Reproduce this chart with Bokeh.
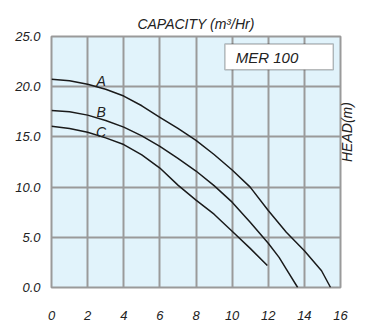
import math
from bokeh.plotting import figure
from bokeh.models import LinearAxis, FixedTicker, Range1d, Label, BoxAnnotation
from bokeh.embed import file_html
from bokeh.resources import INLINE

# Data
a_x = [0, 1, 2, 3, 4, 5, 6, 7, 8, 9, 10, 11, 12, 13, 14, 14.95, 15.45]
a_y = [20.74, 20.6, 20.24, 19.74, 19.07, 18.1, 16.95, 15.85, 14.65, 13.25, 11.7, 10.0, 7.67, 5.5, 3.67, 1.67, 0.0]
b_x = [0, 1, 2, 3, 4, 5, 6, 7, 8, 9, 10, 11, 12, 12.6, 13, 13.63]
b_y = [17.64, 17.5, 17.17, 16.64, 15.97, 15.1, 14.05, 12.85, 11.6, 10.15, 8.5, 6.5, 4.4, 3.0, 1.84, 0.0]
c_x = [0, 1, 2, 3, 4, 5, 6, 7, 8, 9, 10, 11, 11.95]
c_y = [16.07, 15.84, 15.47, 14.9, 14.24, 13.2, 11.9, 10.2, 8.7, 7.3, 5.6, 3.9, 2.2]
curve_names = ["A", "B", "C"]
label_x = [2.75, 2.75, 2.75]
label_y = [20.6, 17.5, 15.5]
x_ticks = [0, 2, 4, 6, 8, 10, 12, 14, 16]
y_ticks = [0, 5, 10, 15, 20, 25]
y_tick_labels = ["0.0", "5.0", "10.0", "15.0", "20.0", "25.0"]
model_name = "MER 100"
title_text = "CAPACITY (m\u00b3/Hr)"
ylabel_text = "HEAD(m)"

FONT = "Liberation Sans"
GRID = "#9a9a9a"
TXT = "#222222"

p = figure(width=365, height=322, output_backend="svg", toolbar_location=None,
           x_range=Range1d(0, 16), y_range=Range1d(0, 25),
           min_border_left=51, min_border_right=23, min_border_top=36, min_border_bottom=35,
           x_axis_location=None, y_axis_location=None)
p.background_fill_color = "#e1f3fb"
p.border_fill_color = "white"
p.outline_line_color = GRID
p.outline_line_width = 2

p.xgrid.ticker = FixedTicker(ticks=x_ticks)
p.ygrid.ticker = FixedTicker(ticks=y_ticks)
for g in (p.xgrid, p.ygrid):
    g.grid_line_color = GRID
    g.grid_line_width = 2

# Left axis
yax = LinearAxis(ticker=FixedTicker(ticks=y_ticks),
                 major_label_overrides={t: l for t, l in zip(y_ticks, y_tick_labels)})
yax.axis_line_color = None
yax.major_tick_line_color = None
yax.minor_tick_line_color = None
yax.major_label_standoff = 5
yax.major_label_text_font = FONT
yax.major_label_text_font_style = "italic"
yax.major_label_text_font_size = "13px"
yax.major_label_text_color = TXT
p.add_layout(yax, "left")

# Bottom axis
xax = LinearAxis(ticker=FixedTicker(ticks=x_ticks))
xax.axis_line_color = None
xax.major_tick_line_color = None
xax.minor_tick_line_color = None
xax.major_label_standoff = 17
xax.major_label_text_font = FONT
xax.major_label_text_font_style = "italic"
xax.major_label_text_font_size = "13px"
xax.major_label_text_color = TXT
p.add_layout(xax, "below")

# Right axis carrying only the label, reading bottom to top
rax = LinearAxis(ticker=FixedTicker(ticks=[]), axis_label=ylabel_text)
rax.axis_line_color = None
rax.major_tick_line_color = None
rax.minor_tick_line_color = None
rax.axis_label_standoff = 6
rax.axis_label_orientation = math.pi / 2
rax.axis_label_text_font = FONT
rax.axis_label_text_font_style = "italic"
rax.axis_label_text_font_size = "14px"
rax.axis_label_text_color = TXT
p.add_layout(rax, "right")

# Title
p.title.text = title_text
p.title.align = "center"
p.title.text_font = FONT
p.title.text_font_style = "italic"
p.title.text_font_size = "14px"
p.title.text_color = TXT
p.title.offset = 14

for xs, ys in ((a_x, a_y), (b_x, b_y), (c_x, c_y)):
    p.line(xs, ys, line_color="#1a1a1a", line_width=1.5, line_join="round")

for name, lx, ly in zip(curve_names, label_x, label_y):
    p.add_layout(Label(x=lx, y=ly, text=name, text_font=FONT, text_font_style="italic",
                       text_font_size="14px", text_align="center", text_baseline="middle",
                       text_color=TXT))

# Model box
p.add_layout(BoxAnnotation(left=9.6, right=15.6, bottom=21.7, top=24.25,
                           fill_color="white", fill_alpha=1.0,
                           line_color=TXT, line_width=1.5))
p.add_layout(Label(x=10.2, y=22.95, text=model_name, text_font=FONT, text_font_style="italic",
                   text_font_size="15px", text_align="left", text_baseline="middle",
                   text_color=TXT))

open("out.html", "w").write(file_html(p, INLINE))
